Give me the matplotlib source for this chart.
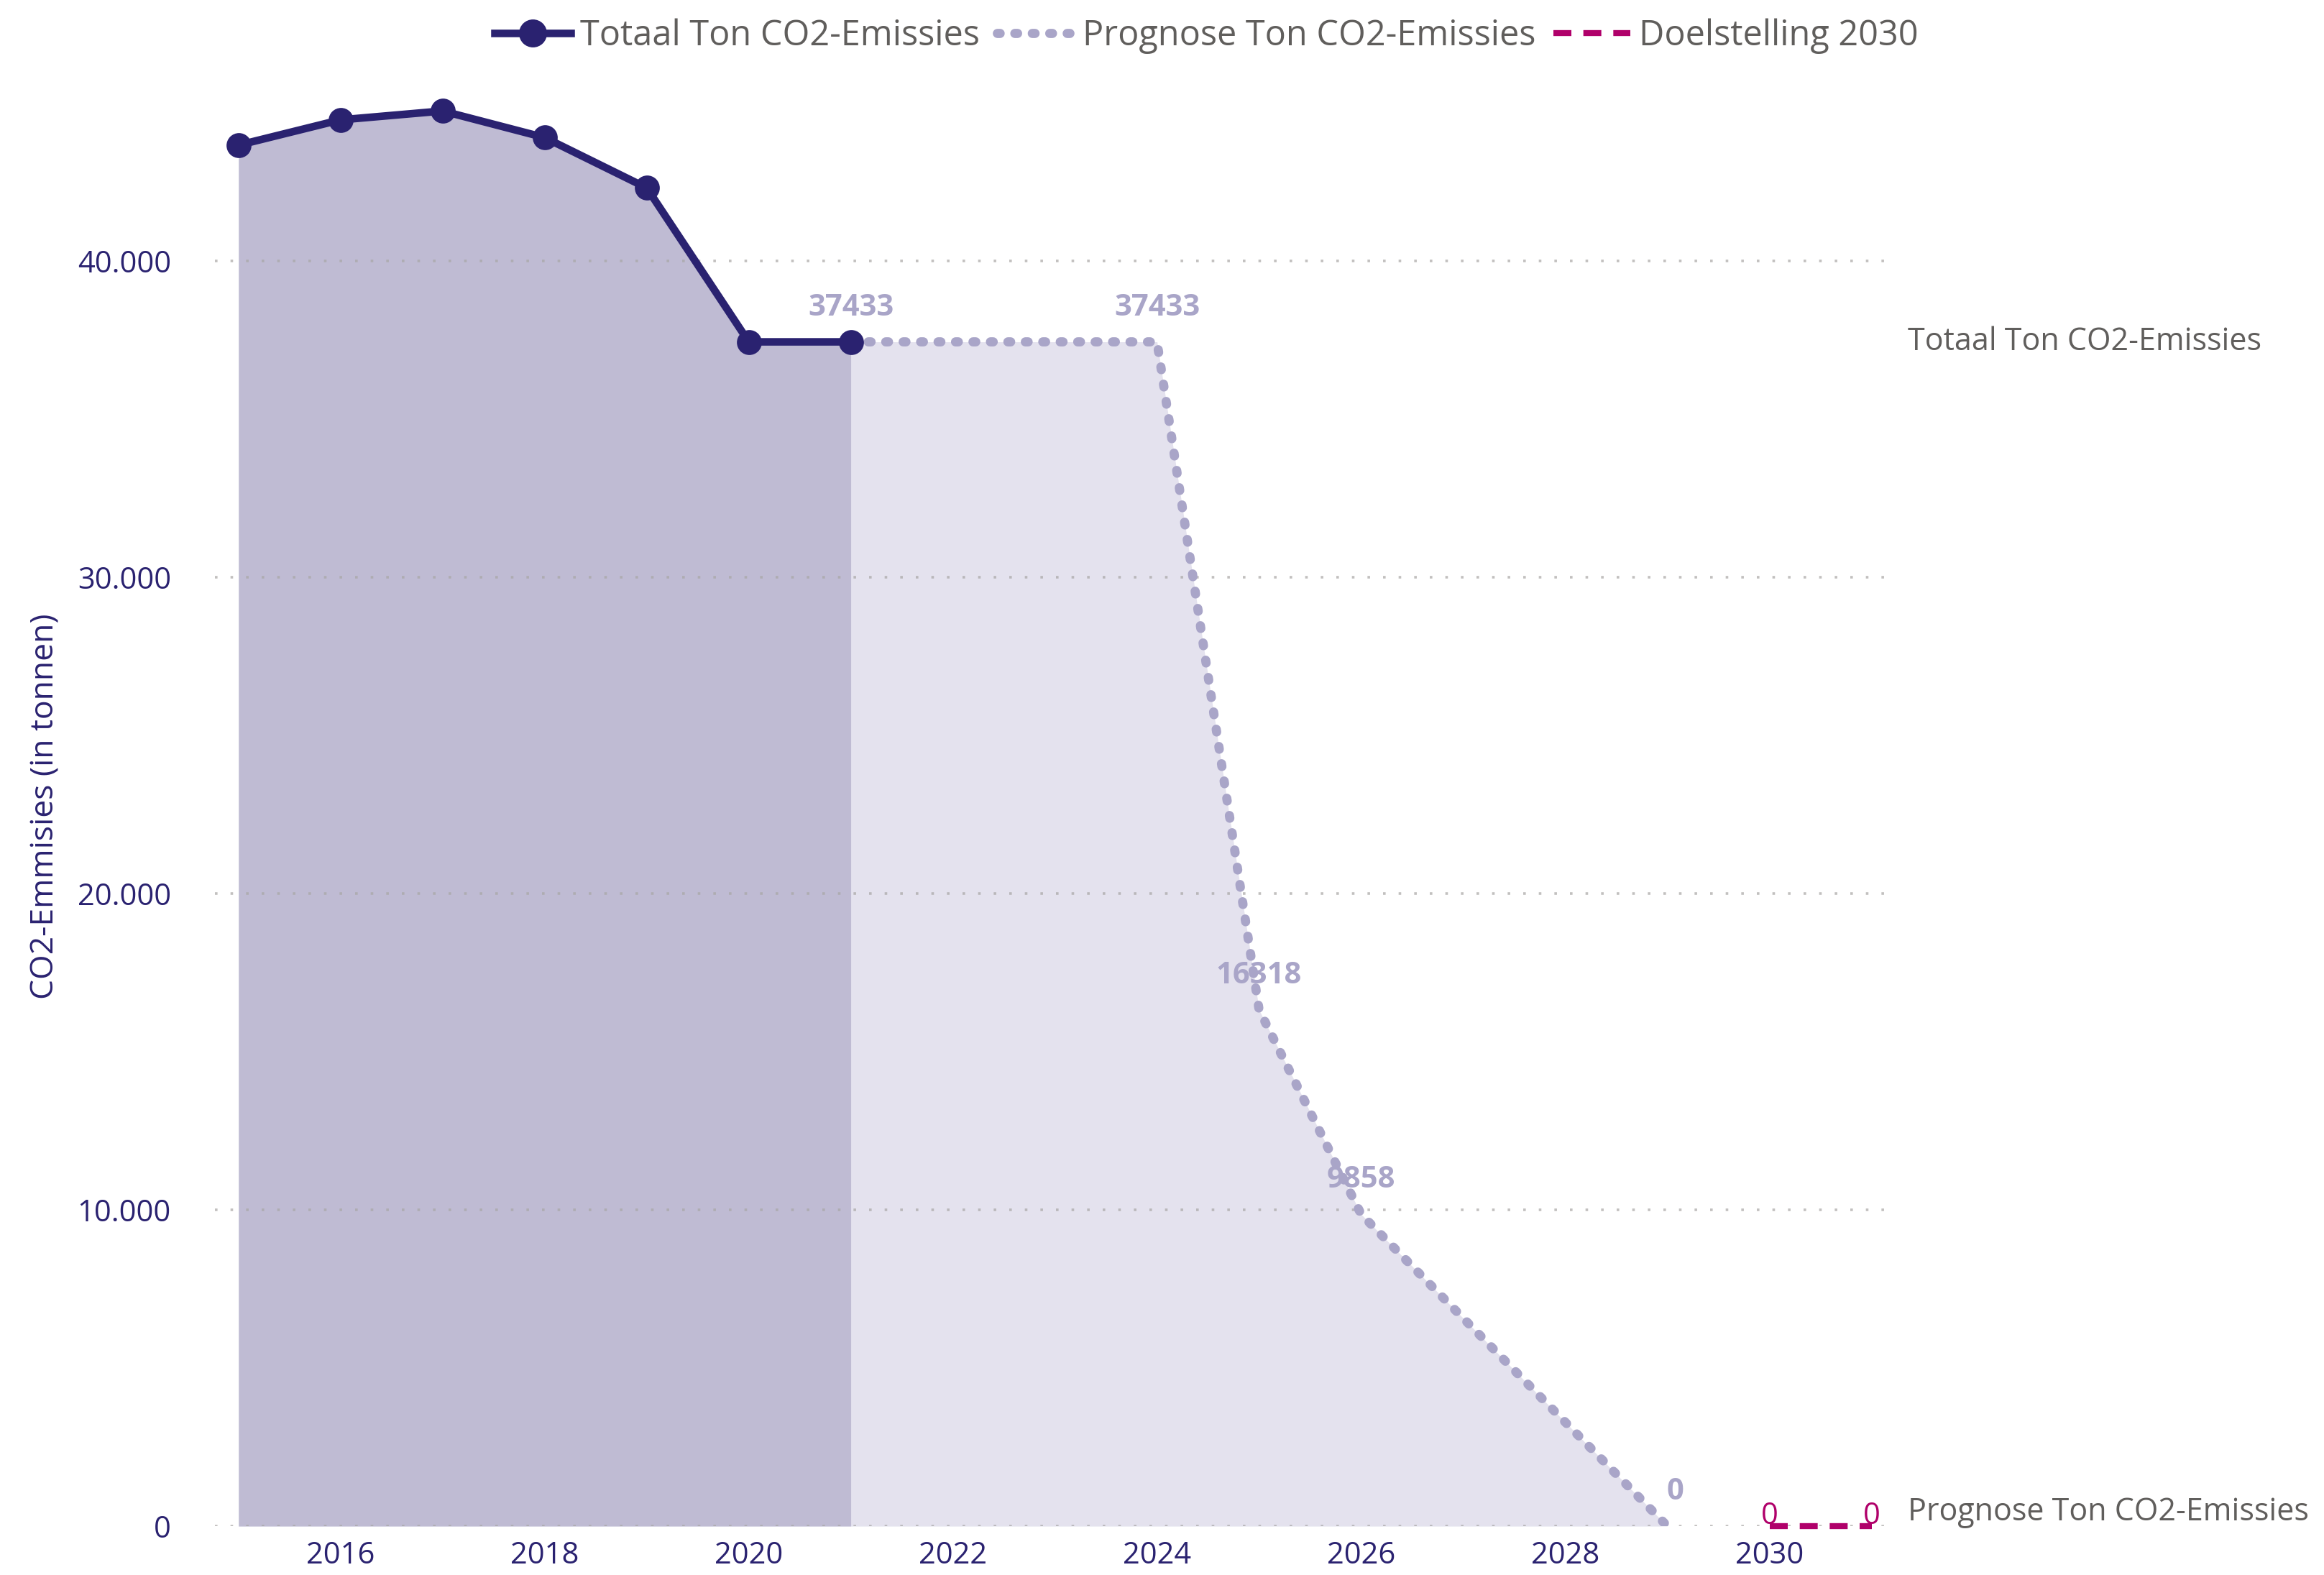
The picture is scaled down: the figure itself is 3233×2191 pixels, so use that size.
import matplotlib.pyplot as plt
from matplotlib.lines import Line2D
from matplotlib.ticker import FuncFormatter
import matplotlib.transforms as mtransforms

plt.rcParams['font.family'] = ['Open Sans', 'DejaVu Sans']

# data
years_actual = [2015, 2016, 2017, 2018, 2019, 2020, 2021]
totaal = [43650, 44450, 44730, 43890, 42300, 37433, 37433]

years_prog = [2021, 2022, 2023, 2024, 2025, 2026, 2027, 2028, 2029]
prognose = [37433, 37433, 37433, 37433, 16318, 9858, 6572, 3286, 0]
prog_labelled = [2021, 2024, 2025, 2026, 2029]

years_doel = [2030, 2031]
doel = [0, 0]

navy = "#2A2270"
lilac = "#A9A5C8"
magenta = "#B0006A"
grey = "#605E5C"

fig = plt.figure(figsize=(3233 / 200, 2191 / 200), dpi=200)
ax = fig.add_axes([0.0925, 0.031, 0.7185, 0.914])

ax.fill_between(years_prog, prognose, 0, color="#E4E2EE", lw=0, zorder=1)
ax.fill_between(years_actual, totaal, 0, color="#BFBBD3", lw=0, zorder=2)

dots = (0, (0.3, 1.6))
ax.plot(years_prog, prognose, color=lilac, lw=4.6, linestyle=dots,
        dash_capstyle="round", zorder=3)
ax.plot(years_actual, totaal, color=navy, lw=3.8, marker="o", markersize=11.5, zorder=4)
ax.plot(years_doel, doel, color=magenta, lw=3, linestyle=(0, (3, 2)), zorder=4, clip_on=False)

for x, y in zip(years_prog, prognose):
    if x in prog_labelled:
        dx = 4 if y == 0 else 0
        ax.annotate(str(y), (x, y), xytext=(dx, 17), textcoords="offset points",
                    ha="center", va="center", fontsize=15, fontweight="bold",
                    color=lilac, zorder=5)
for x, y in zip(years_doel, doel):
    ax.annotate(str(y), (x, y), xytext=(0, 5), textcoords="offset points",
                ha="center", va="center", fontsize=15, color=magenta, zorder=5)

ax.set_xlim(2014.77, 2031.13)
ax.set_ylim(0, 45500)
ax.set_xticks(range(2016, 2031, 2))
ax.set_yticks(range(0, 40001, 10000))
ax.yaxis.set_major_formatter(FuncFormatter(lambda v, p: f"{int(v):,}".replace(",", ".")))
ax.tick_params(length=0, labelsize=15, labelcolor=navy)
ax.tick_params(axis="y", pad=22)
ax.tick_params(axis="x", pad=7)
for s in ax.spines.values():
    s.set_visible(False)
ax.set_axisbelow(False)
ax.grid(axis="y", color="#A8A6A4", alpha=0.7, linestyle=(0, (1, 5)), lw=1.3)
ax.set_ylabel("CO2-Emmisies (in tonnen)", fontsize=16, color=navy, labelpad=8)

# series names at the right end
trans = mtransforms.blended_transform_factory(ax.transAxes, ax.transData)
ax.text(1.014, totaal[-1], "Totaal Ton CO2-Emissies", transform=trans, fontsize=15.5,
        color=grey, va="center", ha="left")
ax.annotate("Prognose Ton CO2-Emissies", (1.014, prognose[-1]), xycoords=trans,
            xytext=(0, 7), textcoords="offset points", fontsize=15.5, color=grey,
            va="center", ha="left")

handles = [
    Line2D([], [], color=navy, lw=3.8, marker="o", markersize=13),
    Line2D([], [], color=lilac, lw=4.6, linestyle=dots, dash_capstyle="round"),
    Line2D([], [], color=magenta, lw=3, linestyle=(0, (3, 2))),
]
fig.legend(handles, ["Totaal Ton CO2-Emissies", "Prognose Ton CO2-Emissies", "Doelstelling 2030"],
           loc="center", bbox_to_anchor=(0.519, 0.977), ncol=3, frameon=False, fontsize=17.5,
           labelcolor=grey, handlelength=2.2, handletextpad=0.25, columnspacing=0.5)

fig.savefig("out.png", dpi=200, facecolor="white")
